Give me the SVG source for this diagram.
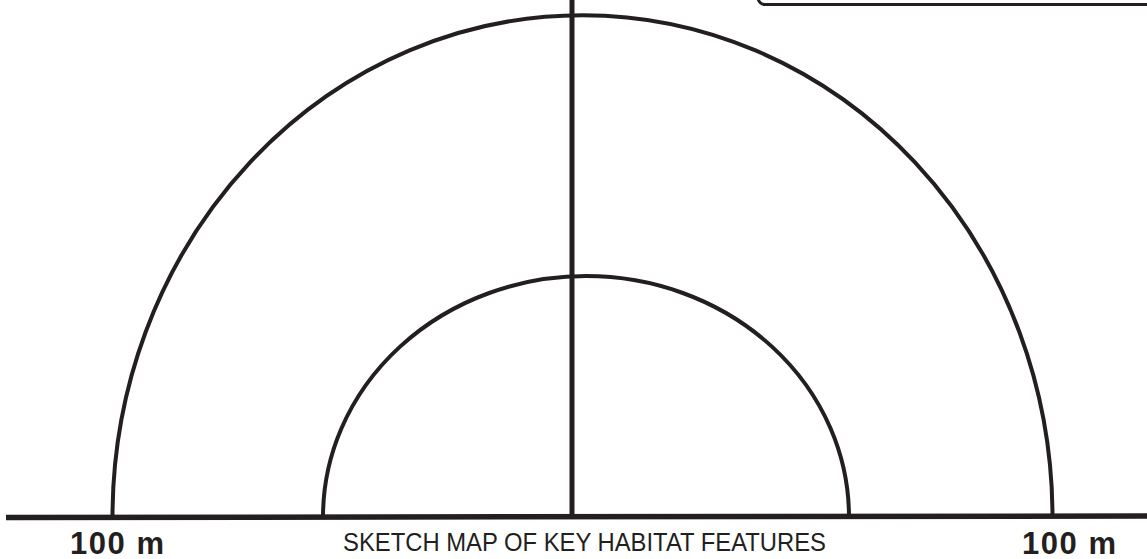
<svg xmlns="http://www.w3.org/2000/svg" width="1147" height="559" viewBox="0 0 1147 559">
<style>
.ln{fill:none;stroke:#231f20;stroke-linecap:butt}
.lbl{font-family:"Liberation Sans",Arial,sans-serif;font-weight:bold;font-size:31px;fill:#231f20}
.ttl{font-family:"Liberation Sans",Arial,sans-serif;font-size:26px;fill:#231f20}
</style>
<rect width="1147" height="559" fill="#ffffff"/>
<g id="box">
<rect class="ln" x="758" y="-30" width="420" height="34.5" rx="7" stroke-width="3"/>
</g>
<g id="connectors">
<path id="outer-arc" class="ln" stroke-width="4" d="M112.5,517 A470,502 0 0 1 1052.5,517"/>
<path id="inner-arc" class="ln" stroke-width="4" d="M323,517 A263,241 0 0 1 849,517"/>
<line id="axis" class="ln" stroke-width="5" x1="572" y1="0" x2="572" y2="517"/>
<line id="baseline" class="ln" stroke-width="5.5" x1="6" y1="517.5" x2="1147" y2="516"/>
</g>
<g id="labels">
<text id="left-label" class="lbl" x="70" y="554" textLength="94" lengthAdjust="spacing">100 m</text>
<text id="right-label" class="lbl" x="1022" y="554" textLength="94" lengthAdjust="spacing">100 m</text>
<text id="title" class="ttl" x="343" y="551" textLength="483" lengthAdjust="spacingAndGlyphs">SKETCH MAP OF KEY HABITAT FEATURES</text>
</g>
</svg>
